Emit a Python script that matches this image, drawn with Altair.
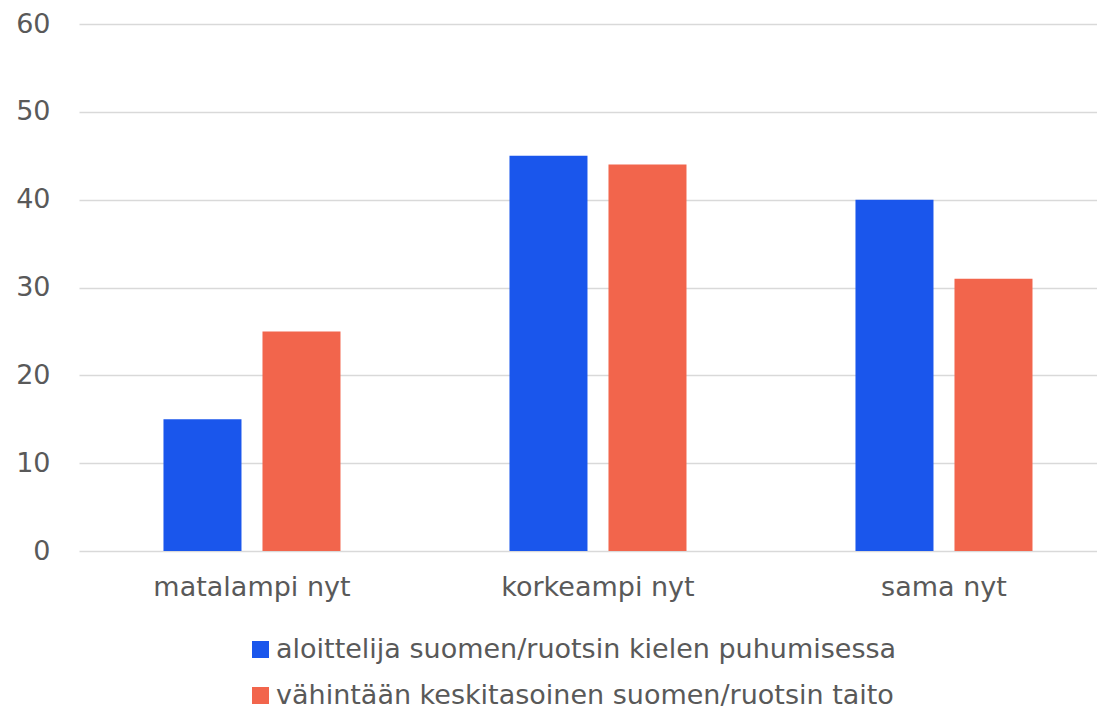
import altair as alt
import pandas as pd

categories = ["matalampi nyt", "korkeampi nyt", "sama nyt"]
series = ["aloittelija suomen/ruotsin kielen puhumisessa",
          "vähintään keskitasoinen suomen/ruotsin taito"]
values_a = [15, 45, 40]
values_b = [25, 44, 31]
colors = ["#1a56ec", "#f2654c"]

rows = []
for c, a, b in zip(categories, values_a, values_b):
    rows.append({"kategoria": c, "sarja": series[0], "arvo": a})
    rows.append({"kategoria": c, "sarja": series[1], "arvo": b})
df = pd.DataFrame(rows)

FONT = "DejaVu Sans"
TXT = "#595959"

chart = alt.Chart(df).mark_bar().encode(
    x=alt.X("kategoria:N", sort=categories, title=None,
            scale=alt.Scale(paddingInner=0.4884, paddingOuter=0.2153, align=0.567),
            axis=alt.Axis(labelAngle=0, domain=False, ticks=False, grid=False,
                          labelPadding=23, labelLimit=1000,
                          labelFontSize=27, labelColor=TXT, labelFont=FONT)),
    xOffset=alt.XOffset("sarja:N", sort=series,
                        scale=alt.Scale(paddingInner=0.2121, paddingOuter=0)),
    y=alt.Y("arvo:Q", title=None,
            scale=alt.Scale(domain=[0, 60], nice=False),
            axis=alt.Axis(values=[0, 10, 20, 30, 40, 50, 60], domain=False, ticks=False,
                          grid=True, labelPadding=29, labelFontSize=27, labelColor=TXT,
                          labelFont=FONT, gridColor="#d9d9d9", gridWidth=1.5)),
    color=alt.Color("sarja:N", sort=series, title=None,
                    scale=alt.Scale(domain=series, range=colors),
                    legend=alt.Legend(orient="none", legendX=168, legendY=612,
                                      direction="vertical", symbolType="square",
                                      symbolSize=289, symbolStrokeWidth=0,
                                      labelFontSize=27, labelColor=TXT, labelFont=FONT,
                                      labelOffset=2, rowPadding=18, padding=0,
                                      labelLimit=1000)),
).properties(
    width=1018, height=527,
    autosize=alt.AutoSizeParams(type="none"),
    padding={"left": 71, "top": 16, "right": 0, "bottom": 158},
).configure_view(stroke=None)

chart.save("out.html", embed_options={"renderer": "svg", "actions": False})
